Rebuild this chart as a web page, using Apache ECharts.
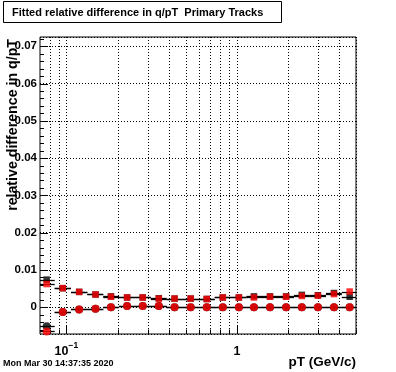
<!DOCTYPE html>
<html><head><meta charset="utf-8">
<script src="https://cdn.jsdelivr.net/npm/echarts@6/dist/echarts.min.js"></script>
<style>html,body{margin:0;padding:0;background:#fff}#c{width:396px;height:372px}</style>
</head><body><div id="c"></div>
<script>
// ---- texts ----
const titleText = 'Fitted relative difference in q/pT  Primary Tracks';
const xTitle = 'pT (GeV/c)';
const yTitle = 'relative difference in q/pT';
const dateText = 'Mon Mar 30 14:37:35 2020';

// ---- data ----
const pt = [0.0766, 0.0952, 0.1188, 0.1482, 0.1826, 0.2270, 0.2804, 0.3484, 0.4312, 0.5357,
            0.6657, 0.8271, 1.0276, 1.2597, 1.5649, 1.9450, 2.4060, 2.9895, 3.7135, 4.5893];
const binEdges = [0.0700, 0.0854, 0.1064, 0.1327, 0.1645, 0.2036, 0.2523, 0.3126, 0.3876, 0.4806, 0.5971,
                  0.7421, 0.9219, 1.138, 1.404, 1.744, 2.163, 2.682, 3.332, 4.128, 5.0];
const blackSquares = [0.0074, 0.0051, 0.0041, 0.0034, 0.0029, 0.0026, 0.0026, 0.0024, 0.0023, 0.0023,
                      0.0022, 0.0026, 0.0026, 0.0029, 0.0029, 0.0029, 0.0033, 0.0032, 0.0038, 0.0028];
const redSquares   = [0.0062, 0.0051, 0.0041, 0.0034, 0.0028, 0.0026, 0.0026, 0.0023, 0.0023, 0.0023,
                      0.0022, 0.0026, 0.0026, 0.0026, 0.0028, 0.0028, 0.0030, 0.0031, 0.0035, 0.0042];
const blackCircles = [-0.0051, -0.0013, -0.0006, -0.0004, 0.0000, 0.0003, 0.0003, 0.0003, 0.0000, 0.0000,
                      0.0000, 0.0000, 0.0000, 0.0000, 0.0000, 0.0000, 0.0000, 0.0000, 0.0000, 0.0000];
const redCircles   = [-0.0065, -0.0013, -0.0006, -0.0004, 0.0000, 0.0003, 0.0003, 0.0003, 0.0000, 0.0000,
                      0.0000, 0.0000, 0.0000, 0.0000, 0.0000, 0.0000, 0.0000, 0.0000, 0.0000, 0.0000];

// ---- axes ----
const xMin = 0.07, xMax = 5.0;
const yMin = -0.0072, yMax = 0.0725;
const xMajorTicks = [0.1, 1];
const xMinorTicks = [0.08, 0.09, 0.2, 0.3, 0.4, 0.5, 0.6, 0.7, 0.8, 0.9, 2, 3, 4, 5];
const yMajorTicks = [0, 0.01, 0.02, 0.03, 0.04, 0.05, 0.06, 0.07];
const yMinorStep = 0.002;

const FONT = 'Liberation Sans';

function points(vals) { return pt.map((x, i) => [x, vals[i]]); }
function errs(vals) { return pt.map((x, i) => [binEdges[i], binEdges[i + 1], vals[i]]); }

function errRender(params, api) {
  const p1 = api.coord([api.value(0), api.value(2)]);
  const p2 = api.coord([api.value(1), api.value(2)]);
  const y = Math.round(p1[1]) + 0.5;
  return { type: 'line', shape: { x1: p1[0], y1: y, x2: p2[0], y2: y },
           style: { stroke: '#000', lineWidth: 1.3 } };
}

function frameRender(params, api) {
  const cs = params.coordSys;
  const top = cs.y, bottom = cs.y + cs.height, left = cs.x;
  const children = [];
  const px = v => Math.round(api.coord([v, 0])[0]) + 0.5;
  const py = v => Math.round(api.coord([1, v])[1]) + 0.5;
  xMinorTicks.concat(xMajorTicks).forEach(v => {
    const x = px(v);
    children.push({ type: 'line', shape: { x1: x, y1: top, x2: x, y2: bottom },
      style: { stroke: '#000', lineWidth: 1, lineDash: [1, 2] } });
  });
  xMajorTicks.forEach(v => { const x = px(v);
    children.push({ type: 'line', shape: { x1: x, y1: bottom, x2: x, y2: bottom - 9 }, style: { stroke: '#000', lineWidth: 1 } }); });
  xMinorTicks.forEach(v => { const x = px(v);
    children.push({ type: 'line', shape: { x1: x, y1: bottom, x2: x, y2: bottom - 4.5 }, style: { stroke: '#000', lineWidth: 1 } }); });
  yMajorTicks.forEach(v => { const y = py(v);
    children.push({ type: 'line', shape: { x1: left, y1: y, x2: left + 8, y2: y }, style: { stroke: '#000', lineWidth: 1 } }); });
  for (let k = Math.ceil(yMin / yMinorStep); k * yMinorStep <= yMax; k++) {
    if (k % 5 === 0) continue;
    const y = py(k * yMinorStep);
    children.push({ type: 'line', shape: { x1: left, y1: y, x2: left + 4, y2: y }, style: { stroke: '#000', lineWidth: 1 } });
  }
  return { type: 'group', children };
}

const chart = echarts.init(document.getElementById('c'), null, { renderer: 'canvas' });
chart.setOption({
  animation: false,
  backgroundColor: '#fff',
  title: {
    text: titleText, left: 12, top: 7, padding: 0,
    textStyle: { fontSize: 11, fontWeight: 'bold', fontFamily: FONT, color: '#000' }
  },
  grid: { left: 40, right: 40, top: 37, bottom: 38, show: true, borderColor: '#000', borderWidth: 1, backgroundColor: 'transparent' },
  xAxis: {
    type: 'log', logBase: 10, min: xMin, max: xMax,
    axisLine: { show: false }, axisTick: { show: false }, splitLine: { show: false },
    axisLabel: {
      showMinLabel: false, showMaxLabel: false, margin: 7, color: '#000',
      formatter: v => {
        const e = Math.round(Math.log10(v));
        if (Math.abs(Math.log10(v) - e) > 1e-6) return '';
        if (e === 0) return '{b|1}';
        return '{b|10}{s|' + (e < 0 ? '\u2212' : '') + Math.abs(e) + '}';
      },
      rich: {
        b: { fontSize: 12.5, fontWeight: 'bold', fontFamily: FONT, color: '#000', lineHeight: 17, verticalAlign: 'bottom' },
        s: { fontSize: 8.5, fontWeight: 'bold', fontFamily: FONT, color: '#000', lineHeight: 9, verticalAlign: 'top' }
      }
    }
  },
  yAxis: {
    type: 'value', min: yMin, max: yMax, splitNumber: 8,
    axisLine: { show: false }, axisTick: { show: false },
    splitLine: { show: true, lineStyle: { color: '#000', width: 1, type: [1, 2] } },
    axisLabel: {
      showMinLabel: false, showMaxLabel: false, margin: 3, color: '#000',
      fontSize: 11.5, fontWeight: 'bold', fontFamily: FONT,
      formatter: v => (Math.abs(v) < 1e-9 ? '0' : v.toFixed(2))
    }
  },
  graphic: [
    { type: 'rect', shape: { x: 3.5, y: 1.5, width: 278, height: 21 },
      style: { fill: 'none', stroke: '#000', lineWidth: 1 }, z: 100 },
    { type: 'text', x: 13.5, y: 39, rotation: Math.PI / 2,
      style: { text: yTitle, fontSize: 14.2, fontWeight: 'bold', fontFamily: FONT, fill: '#000',
               align: 'right', verticalAlign: 'middle' }, z: 100 },
    { type: 'text', x: 356, y: 362,
      style: { text: xTitle, fontSize: 13.5, fontWeight: 'bold', fontFamily: FONT, fill: '#000',
               align: 'right', verticalAlign: 'middle' }, z: 100 },
    { type: 'text', x: 3, y: 364,
      style: { text: dateText, fontSize: 9, fontWeight: 'bold', fontFamily: FONT, fill: '#000',
               align: 'left', verticalAlign: 'middle' }, z: 100 }
  ],
  series: [
    { type: 'custom', name: 'frame', renderItem: frameRender, data: [[1, 0]], z: 1, silent: true },
    { type: 'custom', name: 'black sq err', renderItem: errRender, data: errs(blackSquares), encode: { x: [0, 1], y: 2 }, z: 2 },
    { type: 'scatter', name: 'black squares', data: points(blackSquares), symbol: 'rect', symbolSize: 6.5, itemStyle: { color: '#000' }, z: 3 },
    { type: 'custom', name: 'black ci err', renderItem: errRender, data: errs(blackCircles), encode: { x: [0, 1], y: 2 }, z: 2 },
    { type: 'scatter', name: 'black circles', data: points(blackCircles), symbol: 'circle', symbolSize: 8, itemStyle: { color: '#000' }, z: 3 },
    { type: 'custom', name: 'red sq err', renderItem: errRender, data: errs(redSquares), encode: { x: [0, 1], y: 2 }, z: 4 },
    { type: 'scatter', name: 'red squares', data: points(redSquares), symbol: 'rect', symbolSize: 6.5, itemStyle: { color: '#ff0000' }, z: 5 },
    { type: 'custom', name: 'red ci err', renderItem: errRender, data: errs(redCircles), encode: { x: [0, 1], y: 2 }, z: 4 },
    { type: 'scatter', name: 'red circles', data: points(redCircles), symbol: 'circle', symbolSize: 8, itemStyle: { color: '#ff0000' }, z: 5 }
  ]
});
</script>
</body></html>
